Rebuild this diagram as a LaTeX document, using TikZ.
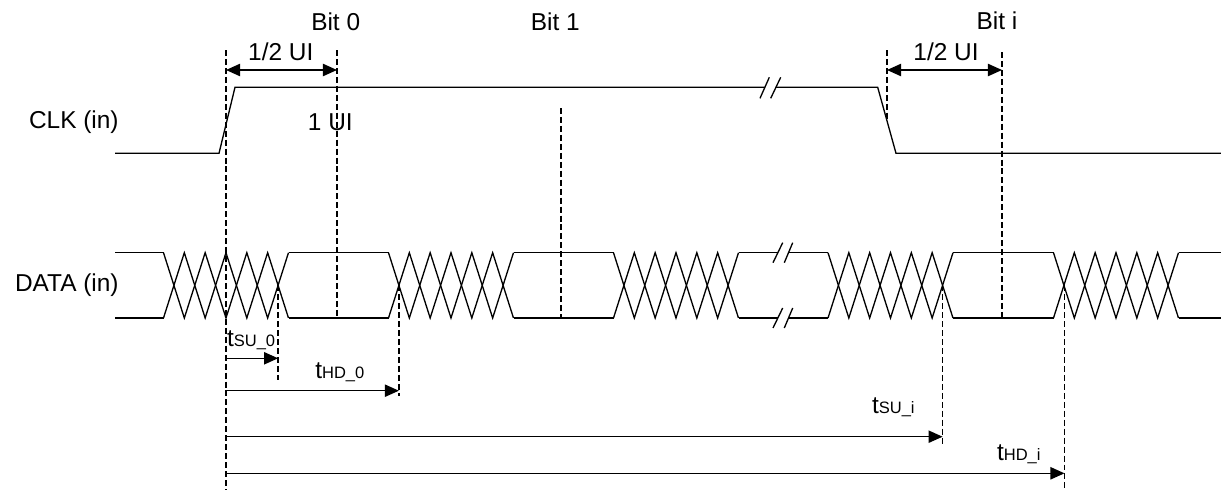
\documentclass[tikz,border=0pt]{standalone}
\usepackage{fontspec}
\setmainfont{Liberation Sans}
\usetikzlibrary{arrows.meta}
\newcommand{\sublbl}[1]{{\fontsize{9.4}{11}\selectfont #1}}
\begin{document}
\begin{tikzpicture}[x=0.02cm, y=-0.02cm,
        sig/.style={line width=0.75pt, line join=miter},
        guide/.style={line width=0.75pt, dash pattern=on 3.4pt off 1.7pt},
        dim/.style={line width=0.75pt, -{Triangle[length=8pt,width=7pt]}},
        dimboth/.style={line width=0.75pt, {Triangle[length=8pt,width=7pt]}-{Triangle[length=8pt,width=7pt]}},
        lbl/.style={font=\fontsize{13.9}{16}\selectfont, inner sep=0pt}]
        \useasboundingbox (0,0) rectangle (1221,490);

        % Signal names
        \node[lbl, anchor=base east] (clk) at (119,128) {CLK (in)};
        \node[lbl, anchor=base east] (data) at (119,291.7) {DATA (in)};

        % Bit names
        \node[lbl, anchor=base] (bit0) at (335.7,31) {Bit 0};
        \node[lbl, anchor=base] (bit1) at (555.3,31) {Bit 1};
        \node[lbl, anchor=base] (biti) at (997,30) {Bit i};

        % Clock waveform
        \coordinate (c0) at (115,153.3);
        \coordinate (c1) at (219,153.3);
        \coordinate (c2) at (235,87.3);
        \coordinate (c3) at (765,87.3);
        \coordinate (c4) at (776,87.3);
        \coordinate (c5) at (877.7,87.3);
        \coordinate (c6) at (896,153.3);
        \coordinate (c7) at (1221,153.3);
        \draw[sig] (c0) -- (c1) -- (c2) -- (c3);
        \draw[sig] (c4) -- (c5) -- (c6) -- (c7);
        \draw[sig] (760,98.3) -- (769.3,77.3);
        \draw[sig] (770.7,98.3) -- (780.7,77.3);

        % Data waveform: flat parts
        \foreach \a/\b in {115/163.5, 288.5/388.5, 513.5/613.5, 738.5/778, 788/828, 953/1053.5, 1178.5/1221} {
            \draw[sig] (\a,252.7) -- (\b,252.7);
            \draw[sig] (\a,318) -- (\b,318);
        }
        % Data waveform: transitions
        \foreach \s in {163.5,388.5,613.5,828,1053.5} {
            \draw[sig] (\s,252.7) \foreach \k in {1,2,3} { -- ++(20.83,65.3) -- ++(20.83,-65.3) };
            \draw[sig] (\s,318) \foreach \k in {1,2,3} { -- ++(20.83,-65.3) -- ++(20.83,65.3) };
        }
        % Data break marks
        \foreach \y in {252.7,318} {
            \draw[sig] (773,\y+10) -- (782.7,\y-10);
            \draw[sig] (784.3,\y+10) -- (792.7,\y-10);
        }

        % Guide lines
        \coordinate (g0) at (226,50);    \coordinate (g0e) at (226,490);
        \coordinate (g1) at (337,50);    \coordinate (g1e) at (337,318);
        \coordinate (g2) at (561,108);   \coordinate (g2e) at (561,318);
        \coordinate (g3) at (887,50);    \coordinate (g3e) at (887,121);
        \coordinate (g4) at (1002,52);   \coordinate (g4e) at (1002,318);
        \coordinate (su0) at (278.1,285.3); \coordinate (su0e) at (278.1,380);
        \coordinate (hd0) at (398.9,285.3); \coordinate (hd0e) at (398.9,396);
        \coordinate (sui) at (942.6,285.3); \coordinate (suie) at (942.6,446);
        \coordinate (hdi) at (1064.5,285.3); \coordinate (hdie) at (1064.5,490);
        \foreach \g in {g0,g1,g2,g3,g4} {
            \draw[guide] (\g) -- (\g e);
        }
        \foreach \g in {su0,hd0,sui,hdi} {
            \draw[guide] (\g) -- (\g e);
        }

        % Half UI arrows
        \draw[dimboth] (g0 |- 0,70) -- (g1 |- 0,70);
        \draw[dimboth] (g3 |- 0,70) -- (g4 |- 0,70);
        \node[lbl, anchor=base] (half0) at (280.8,60) {1/2 UI};
        \node[lbl, anchor=base] (halfi) at (946,60) {1/2 UI};
        \node[lbl, anchor=base] (oneui) at (330.3,130.7) {1 UI};

        % Setup and hold arrows
        \draw[dim] (g0 |- 0,358.3) -- (su0 |- 0,358.3);
        \draw[dim] (g0 |- 0,390.7) -- (hd0 |- 0,390.7);
        \draw[dim] (g0 |- 0,436.7) -- (sui |- 0,436.7);
        \draw[dim] (g0 |- 0,473.3) -- (hdi |- 0,473.3);
        \node[lbl, anchor=base west] (tsu0) at (226.7,346.7) {t\sublbl{SU\_0}};
        \node[lbl, anchor=base west] (thd0) at (315,378.3) {t\sublbl{HD\_0}};
        \node[lbl, anchor=base west] (tsui) at (871.7,413.3) {t\sublbl{SU\_i}};
        \node[lbl, anchor=base west] (thdi) at (996.7,460) {t\sublbl{HD\_i}};
    \end{tikzpicture}
\end{document}
